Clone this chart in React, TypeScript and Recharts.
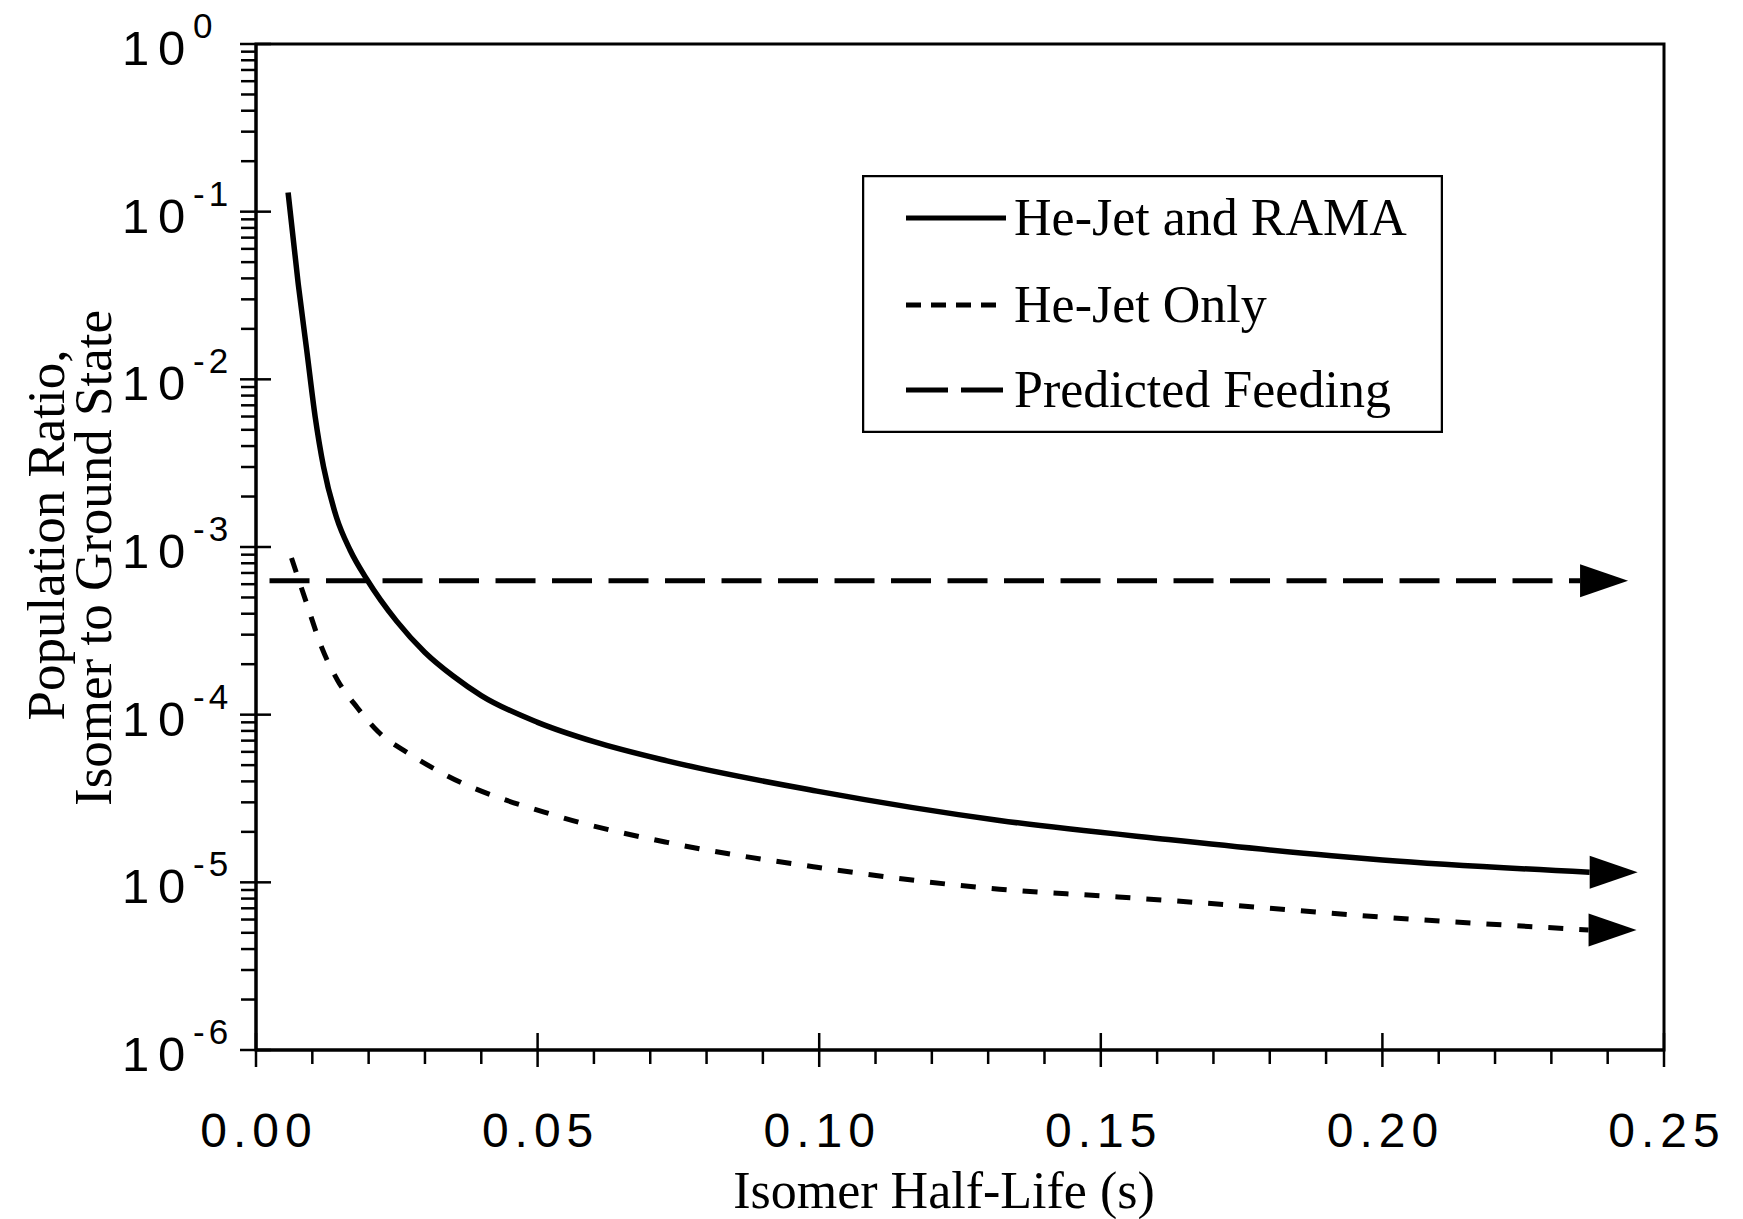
import React from "react";
import {
  ComposedChart,
  Line,
  XAxis,
  YAxis,
  ReferenceArea,
  ReferenceDot,
  Legend,
} from "recharts";

const SANS = '"Liberation Sans", Arial, Helvetica, sans-serif';
const SERIF = '"Liberation Serif", "Times New Roman", serif';

const seriesNames = ["He-Jet and RAMA", "He-Jet Only", "Predicted Feeding"];

// He-Jet and RAMA (solid)
const heJetRamaX = [
  0.0057, 0.0075, 0.009, 0.0105, 0.012, 0.0143, 0.0167, 0.0197, 0.025, 0.03,
  0.035, 0.04, 0.05, 0.06, 0.073, 0.0996, 0.132, 0.162, 0.191, 0.2, 0.2368,
];
const heJetRamaY = [
  0.13, 0.037, 0.015, 0.006, 0.003, 0.0015, 0.00096, 0.00064, 0.00036, 0.000235,
  0.00017, 0.00013, 0.00009, 0.000069, 0.000053, 0.000035, 0.0000234, 0.000018,
  0.0000144, 0.0000136, 0.0000115,
];

// He-Jet Only (short dashes)
const heJetOnlyX = [
  0.0063, 0.009, 0.0117, 0.0145, 0.018, 0.0217, 0.027, 0.0335, 0.0532, 0.073,
  0.0996, 0.132, 0.15, 0.162, 0.2, 0.2366,
];
const heJetOnlyY = [
  0.00086, 0.00046, 0.00025, 0.00016, 0.00011, 0.000079, 0.000059, 0.000044,
  0.000025, 0.0000173, 0.0000123, 0.0000091, 0.0000083, 0.0000078, 0.0000062,
  0.0000052,
];

// Predicted Feeding (long dashes)
const feedingX = [0.0024, 0.2351];
const feedingY = [0.00063, 0.00063];

const xMajorTicks = [0, 0.05, 0.1, 0.15, 0.2, 0.25];
const xMinorTicks = [
  0.01, 0.02, 0.03, 0.04, 0.06, 0.07, 0.08, 0.09, 0.11, 0.12, 0.13, 0.14, 0.16,
  0.17, 0.18, 0.19, 0.21, 0.22, 0.23, 0.24,
];
const yMajorTicks = [1e-6, 1e-5, 1e-4, 1e-3, 1e-2, 1e-1, 1];
const yMinorSteps = [2, 3, 4, 5, 6, 7, 8, 9];

const zip = (xs: number[], ys: number[]) => xs.map((x, i) => ({ x, y: ys[i] }));
const heJetRamaData = zip(heJetRamaX, heJetRamaY);
const heJetOnlyData = zip(heJetOnlyX, heJetOnlyY);
const feedingData = zip(feedingX, feedingY);

const xTicks = [...xMajorTicks, ...xMinorTicks].sort((a, b) => a - b);
const yTicks = [
  ...yMajorTicks,
  ...yMajorTicks.slice(0, -1).flatMap((d) => yMinorSteps.map((s) => s * d)),
].sort((a, b) => a - b);

function XTick(props: any) {
  const { x, y, payload } = props;
  const v = payload.value;
  const major = xMajorTicks.some((t) => Math.abs(t - v) < 1e-9);
  if (!major) {
    return <line x1={x} x2={x} y1={y} y2={y + 14} stroke="#000" strokeWidth={2.5} />;
  }
  return (
    <g>
      <line x1={x} x2={x} y1={y - 17} y2={y + 17} stroke="#000" strokeWidth={2.5} />
      <text
        x={x + 3}
        y={y + 97}
        textAnchor="middle"
        fontFamily={SANS}
        fontSize={48}
        letterSpacing={6}
        fill="#000"
      >
        {v.toFixed(2)}
      </text>
    </g>
  );
}

function YTick(props: any) {
  const { x, y, payload } = props;
  const v = payload.value;
  const lg = Math.log10(v);
  const exp = Math.round(lg);
  const major = Math.abs(lg - exp) < 1e-6;
  if (!major) {
    return <line x1={x - 15} x2={x} y1={y} y2={y} stroke="#000" strokeWidth={2.5} />;
  }
  return (
    <g fontFamily={SANS} fill="#000">
      <line x1={x - 16} x2={x + 15} y1={y} y2={y} stroke="#000" strokeWidth={2.5} />
      <text x={x - 134} y={y + 21} fontSize={49}>
        1
      </text>
      <text x={x - 98} y={y + 21} fontSize={49}>
        0
      </text>
      <text x={x - 63} y={y - 6} fontSize={35} letterSpacing={4}>
        {String(exp)}
      </text>
    </g>
  );
}

function XTitle(props: any) {
  const vb = props.viewBox || {};
  return (
    <text
      x={vb.x + vb.width / 2 - 16}
      y={vb.y + 158}
      textAnchor="middle"
      fontFamily={SERIF}
      fontSize={52}
      fill="#000"
    >
      Isomer Half-Life (s)
    </text>
  );
}

function YTitle(props: any) {
  const vb = props.viewBox || {};
  const cy = vb.y + vb.height / 2;
  const lines = [
    { text: "Population Ratio,", x: 64, y: cy - 12 },
    { text: "Isomer to Ground State", x: 111, y: cy + 11 },
  ];
  return (
    <g>
      {lines.map((l) => (
        <text
          key={l.text}
          x={l.x}
          y={l.y}
          transform={`rotate(-90, ${l.x}, ${l.y})`}
          textAnchor="middle"
          fontFamily={SERIF}
          fontSize={53}
          fill="#000"
        >
          {l.text}
        </text>
      ))}
    </g>
  );
}

const legendDashes = [undefined, "15 10", "42 13"];
const legendRows = [43, 130, 215];

function LegendBox() {
  return (
    <svg width={581} height={258} style={{ display: "block" }}>
      <rect x={1} y={1} width={579} height={256} fill="#fff" stroke="#000" strokeWidth={2.5} />
      {seriesNames.map((name, i) => (
        <g key={name}>
          <line
            x1={44}
            x2={144}
            y1={legendRows[i]}
            y2={legendRows[i]}
            stroke="#000"
            strokeWidth={5}
            strokeDasharray={legendDashes[i]}
          />
          <text x={152} y={legendRows[i] + 17} fontFamily={SERIF} fontSize={52} fill="#000">
            {name}
          </text>
        </g>
      ))}
    </svg>
  );
}

const arrowHead = (p: any) => (
  <polygon
    points={`${p.cx},${p.cy - 16.5} ${p.cx + 48},${p.cy} ${p.cx},${p.cy + 16.5}`}
    fill="#000"
  />
);

export default function App() {
  const lastRama = heJetRamaData[heJetRamaData.length - 1];
  const lastOnly = heJetOnlyData[heJetOnlyData.length - 1];
  const lastFeed = feedingData[feedingData.length - 1];
  return (
    <div style={{ position: "absolute", left: 0, top: 0, background: "#fff" }}>
      <ComposedChart
        width={1743}
        height={1219}
        margin={{ top: 44, right: 79, left: 56, bottom: 69 }}
      >
        <XAxis
          dataKey="x"
          type="number"
          domain={[0, 0.25]}
          allowDataOverflow
          ticks={xTicks}
          interval={0}
          tick={<XTick />}
          tickLine={false}
          tickSize={0}
          tickMargin={0}
          height={100}
          axisLine={{ stroke: "#000", strokeWidth: 3 }}
          label={<XTitle />}
        />
        <YAxis
          type="number"
          scale="log"
          domain={[1e-6, 1]}
          allowDataOverflow
          ticks={yTicks}
          interval={0}
          tick={<YTick />}
          tickLine={false}
          tickSize={0}
          tickMargin={0}
          width={200}
          axisLine={{ stroke: "#000", strokeWidth: 3 }}
          label={<YTitle />}
        />
        <ReferenceArea
          x1={0}
          x2={0.25}
          y1={1e-6}
          y2={1}
          fill="none"
          fillOpacity={0}
          stroke="#000"
          strokeWidth={3}
        />
        <Line
          data={feedingData}
          dataKey="y"
          name={seriesNames[2]}
          type="linear"
          stroke="#000"
          strokeWidth={5}
          strokeDasharray="40 16.5"
          dot={false}
          activeDot={false}
          isAnimationActive={false}
        />
        <Line
          data={heJetOnlyData}
          dataKey="y"
          name={seriesNames[1]}
          type="monotone"
          stroke="#000"
          strokeWidth={5}
          strokeDasharray="15 16"
          dot={false}
          activeDot={false}
          isAnimationActive={false}
        />
        <Line
          data={heJetRamaData}
          dataKey="y"
          name={seriesNames[0]}
          type="monotone"
          stroke="#000"
          strokeWidth={5.5}
          dot={false}
          activeDot={false}
          isAnimationActive={false}
        />
        <ReferenceDot x={lastRama.x} y={lastRama.y} r={1} shape={arrowHead} />
        <ReferenceDot x={lastOnly.x} y={lastOnly.y} r={1} shape={arrowHead} />
        <ReferenceDot x={lastFeed.x} y={lastFeed.y} r={1} shape={arrowHead} />
        <Legend
          layout="vertical"
          align="center"
          verticalAlign="middle"
          width={581}
          height={258}
          wrapperStyle={{ left: 862, top: 175, width: 581, height: 258 }}
          content={<LegendBox />}
        />
      </ComposedChart>
    </div>
  );
}
